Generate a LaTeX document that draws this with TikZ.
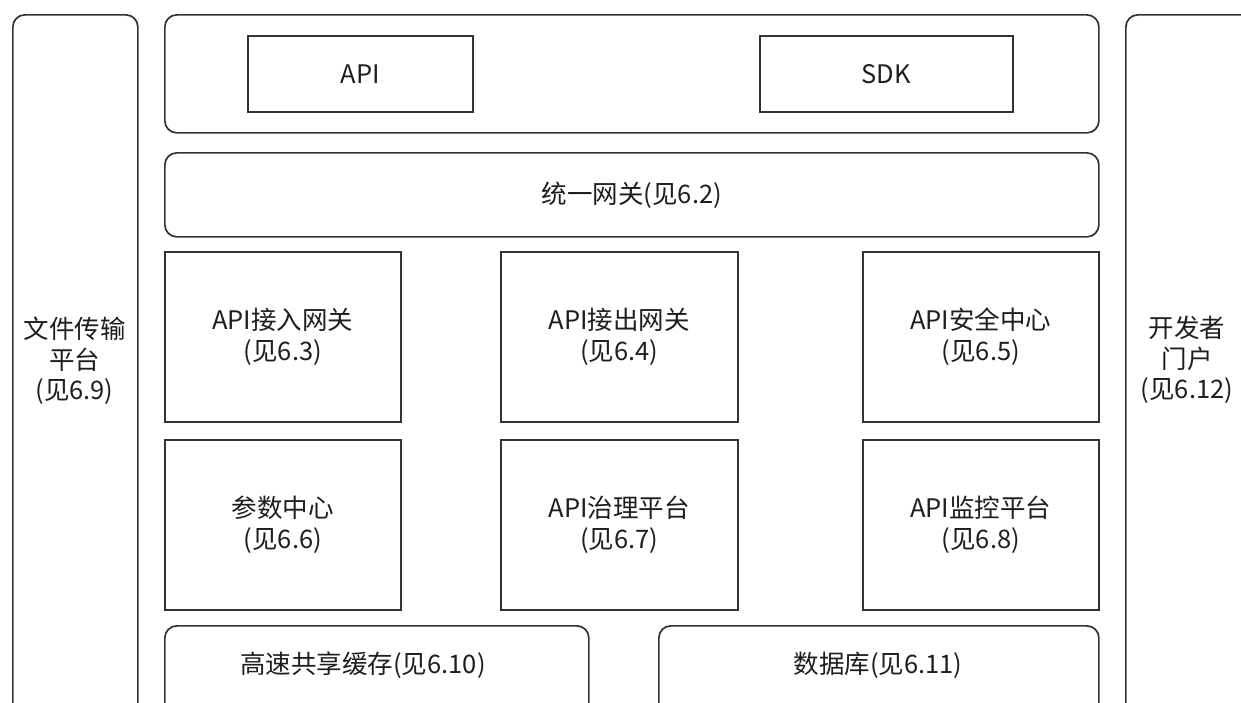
\documentclass[tikz,border=0pt]{standalone}
\usepackage{fontspec}
\setmainfont{Noto Sans CJK SC}
\definecolor{lc}{HTML}{333333}
\definecolor{tc}{HTML}{1E1E1E}
\tikzset{
  sqbox/.style={draw=lc, line width=1.7pt, inner sep=0pt},
  rdbox/.style={sqbox, rounded corners=12pt},
  lbl/.style={text=tc, align=center, inner sep=0pt, font=\fontsize{25.5}{30.5}\selectfont},
}
\begin{document}
\begin{tikzpicture}[x=1pt,y=-1pt]
\useasboundingbox (0,0) rectangle (1241,702);
\clip (0,0) rectangle (1241,702);
\fill[white] (0,0) rectangle (1241,702);
% side columns
\node[rdbox, minimum width=125pt, minimum height=760pt, anchor=north west] (left) at (12,14) {};
\node[lbl] (lefttext) at (74.5,361) {文件传输\\平台\\(见6.9)};
\node[rdbox, minimum width=140pt, minimum height=760pt, anchor=north west] (right) at (1125,14) {};
\node[lbl] (righttext) at (1187,360) {开发者\\门户\\(见6.12)};
% top
\node[rdbox, minimum width=934pt, minimum height=118pt, anchor=north west] (top) at (164,14) {};
\node[sqbox, lbl, minimum width=225pt, minimum height=76pt, anchor=north west] (api) at (247,35) {API};
\node[sqbox, lbl, minimum width=253pt, minimum height=76pt, anchor=north west] (sdk) at (759,35) {SDK};
% gateway
\node[rdbox, lbl, minimum width=934pt, minimum height=84pt, anchor=north west] (gw) at (164,152) {统一网关(见6.2)};
% row 1
\node[sqbox, lbl, minimum width=236pt, minimum height=170pt, anchor=north west] (in) at (164,251) {API接入网关\\(见6.3)};
\node[sqbox, lbl, minimum width=237pt, minimum height=170pt, anchor=north west] (out) at (500,251) {API接出网关\\(见6.4)};
\node[sqbox, lbl, minimum width=236pt, minimum height=170pt, anchor=north west] (sec) at (862,251) {API安全中心\\(见6.5)};
% row 2
\node[sqbox, lbl, minimum width=236pt, minimum height=170pt, anchor=north west] (param) at (164,439) {参数中心\\(见6.6)};
\node[sqbox, lbl, minimum width=237pt, minimum height=170pt, anchor=north west] (gov) at (500,439) {API治理平台\\(见6.7)};
\node[sqbox, lbl, minimum width=236pt, minimum height=170pt, anchor=north west] (mon) at (862,439) {API监控平台\\(见6.8)};
% bottom
\node[rdbox, minimum width=424pt, minimum height=140pt, anchor=north west] (cache) at (164,625) {};
\node[lbl] (cachetext) at (363,665) {高速共享缓存(见6.10)};
\node[rdbox, minimum width=440pt, minimum height=140pt, anchor=north west] (db) at (658,625) {};
\node[lbl] (dbtext) at (878,665) {数据库(见6.11)};
\end{tikzpicture}
\end{document}
